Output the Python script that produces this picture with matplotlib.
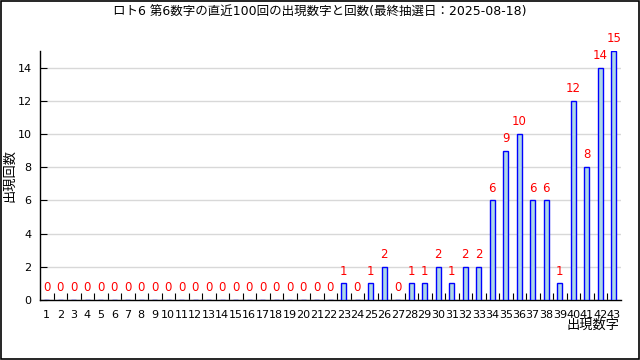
import matplotlib
matplotlib.use("Agg")
import matplotlib.pyplot as plt
from matplotlib.patches import Rectangle

plt.rcParams["font.family"] = ["DejaVu Sans", "Noto Sans CJK JP"]

# ── data ──────────────────────────────────────────────────────────────
numbers = list(range(1, 44))
counts = [0] * 22 + [1, 0, 1, 2, 0, 1, 1, 2, 1, 2, 2,
                     6, 9, 10, 6, 6, 1, 12, 8, 14, 15]
title = "ロト6 第6数字の直近100回の出現数字と回数(最終抽選日：2025-08-18)"
ylabel = "出現回数"
xlabel = "出現数字"
yticks = [0, 2, 4, 6, 8, 10, 12, 14]

# ── figure ────────────────────────────────────────────────────────────
fig = plt.figure(figsize=(6.4, 3.6), dpi=100)
fig.patches.append(Rectangle((0.001, 0.002), 0.997, 0.996, transform=fig.transFigure,
                             fill=False, edgecolor="black", linewidth=1.2))
ax = fig.add_axes([40 / 640, 1 - 300 / 360, 580.5 / 640, 249 / 360])

ax.bar(numbers, counts, width=0.4, color="#add8e6", edgecolor="blue",
       linewidth=1, zorder=3)
for n, c in zip(numbers, counts):
    ax.text(n, c + 0.35, str(c), color="red", ha="center", va="bottom",
            fontsize=8.5, zorder=4)

ax.set_xlim(0.5, 43.5)
ax.set_ylim(0, 15)
ax.set_yticks(yticks)
ax.set_xticks(numbers)
ax.set_xticks([n + 0.5 for n in numbers[:-1]], minor=True)
ax.tick_params(axis="x", which="major", length=0, pad=7, labelsize=8)
ax.tick_params(axis="x", which="minor", direction="in", length=5, width=0.8)
ax.tick_params(axis="y", direction="in", length=5, width=0.8, pad=6,
               labelsize=8)
ax.yaxis.grid(True, color="#d8d8d8", linewidth=1, zorder=0)
for s in ("top", "right"):
    ax.spines[s].set_visible(False)
for s in ("left", "bottom"):
    ax.spines[s].set_linewidth(1)

fig.text(0.5, 1 - 12 / 360, title, ha="center", va="center", fontsize=9)
fig.text(10 / 640, 1 - 175 / 360, ylabel, rotation=90, ha="center",
         va="center", fontsize=9.5)
fig.text(619 / 640, 1 - 325 / 360, xlabel, ha="right", va="center",
         fontsize=9.5)

fig.savefig("out.png", dpi=100)
